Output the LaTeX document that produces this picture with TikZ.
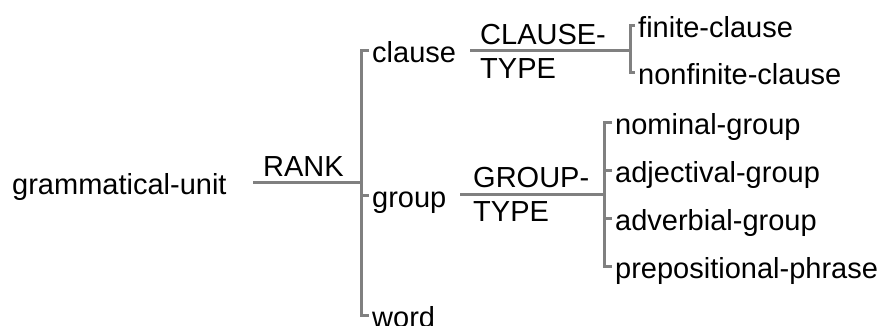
\documentclass[tikz,border=0pt]{standalone}
\usepackage{fontspec}
\setmainfont{Liberation Sans}
\colorlet{lnx}{black!50}
\colorlet{txx}{black}
\newcommand{\netfont}{\fontsize{29}{34}\selectfont}
\tikzset{
    wire/.style={lnx,line width=3pt},
    term/.style={txx,font=\netfont,anchor=west,inner xsep=3pt,inner ysep=0pt,text height=24pt,text depth=0pt},
    sysname/.style={txx,font=\netfont,inner sep=0pt,align=left}
}

\begin{document}
\begin{tikzpicture}[x=1pt,y=-1pt]
    \useasboundingbox (0,0) rectangle (889,325);
    \node [term] (unit) at (9,182) {grammatical-unit};
    % RANK
    \coordinate (rank-in) at (253,182);
    \coordinate (rank-x) at (361,182);
    \node [term] (clause) at (369,50) {clause};
    \node [term] (group) at (369,195) {group};
    \node [term] (word) at (369,315) {word};
    \draw [wire] (rank-in) -- (rank-x);
    \draw [wire] (clause.west) -- (clause.west -| rank-x)
        -- (word.west -| rank-x) -- (word.west);
    \draw [wire] (group.west -| rank-x) -- (group.west);
    \node [sysname,anchor=base west] (rank) at (263,176) {RANK};
    % CLAUSE-TYPE
    \coordinate (ctype-in) at (470,50);
    \coordinate (ctype-x) at (630,50);
    \node [term] (finite) at (635,25) {finite-clause};
    \node [term] (nonfinite) at (635,72) {nonfinite-clause};
    \draw [wire] (ctype-in) -- (ctype-x);
    \draw [wire] (finite.west) -- (finite.west -| ctype-x)
        -- (nonfinite.west -| ctype-x) -- (nonfinite.west);
    \node [sysname,anchor=west] (ctype) at (480,51) {CLAUSE-\\TYPE};
    % GROUP-TYPE
    \coordinate (gtype-in) at (460,194);
    \coordinate (gtype-x) at (604,194);
    \foreach \nm/\y/\txt in {nom/122/nominal-group,adj/170/adjectival-group,
                             adv/218/adverbial-group,prep/266/prepositional-phrase} {
        \node [term] (\nm) at (612,\y) {\txt};
    }
    \draw [wire] (gtype-in) -- (gtype-x);
    \draw [wire] (nom.west) -- (nom.west -| gtype-x)
        -- (prep.west -| gtype-x) -- (prep.west);
    \foreach \nm in {adj,adv} {
        \draw [wire] (\nm.west -| gtype-x) -- (\nm.west);
    }
    \node [sysname,anchor=west] (gtype) at (473,194) {GROUP-\\TYPE};
\end{tikzpicture}
\end{document}
